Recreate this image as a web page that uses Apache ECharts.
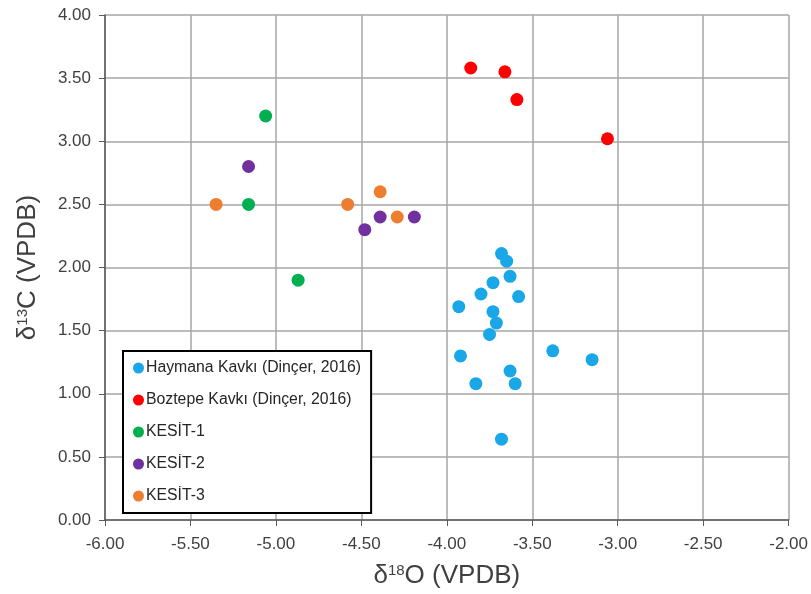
<!DOCTYPE html>
<html>
<head>
<meta charset="utf-8">
<script src="https://cdn.jsdelivr.net/npm/echarts@6/dist/echarts.min.js"></script>
<style>html,body{margin:0;padding:0;background:#fff}#c{width:811px;height:594px}</style>
</head>
<body>
<div id="c"></div>
<script>
const seriesNames = ['Haymana Kavkı (Dinçer, 2016)', 'Boztepe Kavkı (Dinçer, 2016)', 'KESİT-1', 'KESİT-2', 'KESİT-3'];
const seriesColors = ['#1aa7e8', '#ff0000', '#00b050', '#7030a0', '#ed7d31'];

const haymanaO = [-3.68, -3.65, -3.63, -3.73, -3.80, -3.58, -3.93, -3.73, -3.71, -3.75, -3.38, -3.15, -3.92, -3.63, -3.83, -3.60, -3.68];
const haymanaC = [2.11, 2.05, 1.93, 1.88, 1.79, 1.77, 1.69, 1.65, 1.56, 1.47, 1.34, 1.27, 1.30, 1.18, 1.08, 1.08, 0.64];

const boztepeO = [-3.86, -3.66, -3.59, -3.06];
const boztepeC = [3.58, 3.55, 3.33, 3.02];

const kesit1O = [-5.06, -5.16, -4.87];
const kesit1C = [3.20, 2.50, 1.90];

const kesit2O = [-5.16, -4.39, -4.19, -4.48];
const kesit2C = [2.80, 2.40, 2.40, 2.30];

const kesit3O = [-5.35, -4.58, -4.39, -4.29];
const kesit3C = [2.50, 2.50, 2.60, 2.40];

const xTicks = { min: -6, max: -2, interval: 0.5 };
const yTicks = { min: 0, max: 4, interval: 0.5 };

const allO = [haymanaO, boztepeO, kesit1O, kesit2O, kesit3O];
const allC = [haymanaC, boztepeC, kesit1C, kesit2C, kesit3C];

const font = 'Liberation Sans, Arial, sans-serif';
const chart = echarts.init(document.getElementById('c'), null, { renderer: 'canvas' });

const nameRich = {
  a: { fontFamily: font, fontSize: 26, color: '#404040', lineHeight: 30 },
  sup: { fontFamily: font, fontSize: 15, color: '#404040', lineHeight: 30, padding: [0, 0, 11, 0] }
};

chart.setOption({
  animation: false,
  backgroundColor: '#ffffff',
  grid: { left: 105, right: 21, top: 15, bottom: 72, containLabel: false },
  xAxis: {
    type: 'value', min: xTicks.min, max: xTicks.max, interval: xTicks.interval,
    axisLine: { onZero: false, lineStyle: { color: '#595959', width: 1.5 } },
    axisTick: { show: true, length: 6, lineStyle: { color: '#595959' } },
    axisLabel: { color: '#404040', fontFamily: font, fontSize: 17, margin: 16, formatter: v => v.toFixed(2) },
    splitLine: { show: true, lineStyle: { color: '#a6a6a6', width: 1.5 } },
    name: '{a|δ}{sup|18}{a|O (VPDB)}',
    nameLocation: 'middle', nameGap: 41,
    nameTextStyle: { rich: nameRich }
  },
  yAxis: {
    type: 'value', min: yTicks.min, max: yTicks.max, interval: yTicks.interval,
    axisLine: { show: true, onZero: false, lineStyle: { color: '#595959', width: 1.5 } },
    axisTick: { show: true, length: 6, lineStyle: { color: '#595959' } },
    axisLabel: { color: '#404040', fontFamily: font, fontSize: 17, margin: 14, formatter: v => v.toFixed(2) },
    splitLine: { show: true, lineStyle: { color: '#a6a6a6', width: 1.5 } },
    name: '{a|δ}{sup|13}{a|C (VPDB)}',
    nameLocation: 'middle', nameGap: 62, nameRotate: 90,
    nameTextStyle: { rich: nameRich }
  },
  legend: {
    orient: 'vertical', left: 123, top: 351,
    backgroundColor: '#ffffff', borderColor: '#000000', borderWidth: 2,
    padding: [8, 10, 8, 10],
    itemWidth: 11, itemHeight: 11, itemGap: 14,
    icon: 'circle',
    textStyle: { fontFamily: font, fontSize: 15.8, color: '#262626', lineHeight: 18, padding: [0, 0, 0, -3] },
    data: seriesNames
  },
  series: seriesNames.map((n, i) => ({
    name: n, type: 'scatter', symbol: 'circle', symbolSize: 13,
    itemStyle: { color: seriesColors[i], opacity: 1 },
    data: allO[i].map((o, j) => [o, allC[i][j]])
  }))
});
</script>
</body>
</html>
